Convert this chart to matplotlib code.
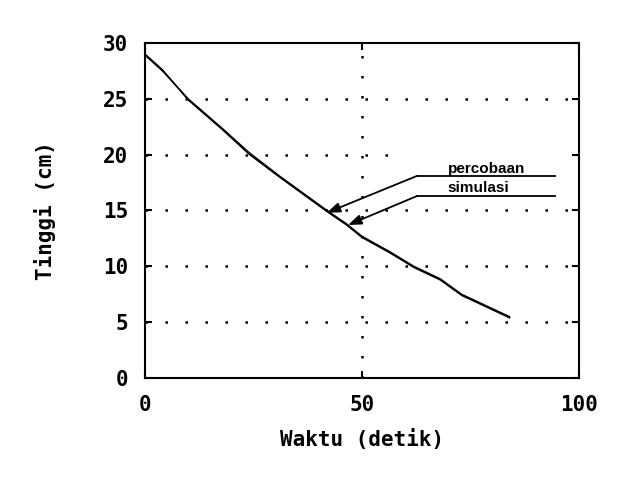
import numpy as np
import matplotlib
matplotlib.use("Agg")
import matplotlib.pyplot as plt

# data
waktu_percobaan = [0, 4, 10, 18, 24, 31, 42, 46.5, 50, 56.5, 62, 68, 73, 84]
tinggi_percobaan = [29.0, 27.6, 24.9, 22.2, 20.05, 18.0, 14.9, 13.7, 12.6, 11.2, 9.9, 8.8, 7.4, 5.4]

waktu_simulasi = [0, 4, 10, 18, 24, 31, 42, 46.5, 50, 56.5, 62, 68, 73, 84]
tinggi_simulasi = [28.9, 27.5, 25.0, 22.3, 20.2, 18.1, 15.0, 13.8, 12.7, 11.3, 10.0, 8.9, 7.5, 5.5]

xticks = [0, 50, 100]
yticks = [0, 5, 10, 15, 20, 25, 30]

mono = "DejaVu Sans Mono"

fig = plt.figure(figsize=(6.37, 4.79), dpi=100)
ax = fig.add_axes([0.2276, 0.2109, 0.6813, 0.6993])

# dotted grid
dots = (0, (1, 7))
for y in [5, 10, 15, 25]:
    ax.axhline(y, color="black", lw=1.8, ls=dots, zorder=1)
ax.axhline(20, xmax=0.6, color="black", lw=1.8, ls=dots, zorder=1)
ax.axvline(50, color="black", lw=1.8, ls=dots, zorder=1)

ax.plot(waktu_percobaan, tinggi_percobaan, color="black", lw=1.2, zorder=3)
ax.plot(waktu_simulasi, tinggi_simulasi, color="black", lw=0.9, zorder=3)

# annotation labels with arrows
labels = [("percobaan", 18.1, 18.4, (41.9, 14.8)),
          ("simulasi", 16.3, 16.65, (46.8, 13.7))]
for txt, yline, ytxt, tip in labels:
    ax.plot([62.7, 94.5], [yline, yline], color="black", lw=1.3, zorder=4)
    ax.annotate("", xy=tip, xytext=(62.7, yline),
                arrowprops=dict(arrowstyle="-|>,head_length=0.8,head_width=0.3",
                                color="black", lw=1.3, shrinkA=0, shrinkB=0),
                zorder=4)
    ax.text(69.8, ytxt, txt, fontsize=11, family="Liberation Sans",
            fontweight="bold", va="baseline", ha="left", zorder=5)

ax.set_xlim(0, 100)
ax.set_ylim(0, 30)
ax.set_xticks(xticks)
ax.set_yticks(yticks)
ax.tick_params(direction="in", length=5, width=1.5, top=True, right=True,
               labelsize=15, pad=12)
for lab in ax.get_xticklabels() + ax.get_yticklabels():
    lab.set_family(mono)
    lab.set_fontweight("bold")
for sp in ax.spines.values():
    sp.set_linewidth(1.5)

ax.set_xlabel("Waktu (detik)", family=mono, fontweight="bold", fontsize=15, labelpad=10)
ax.set_ylabel("Tinggi (cm)", family=mono, fontweight="bold", fontsize=15, labelpad=34)

fig.savefig("out.png", dpi=100)
